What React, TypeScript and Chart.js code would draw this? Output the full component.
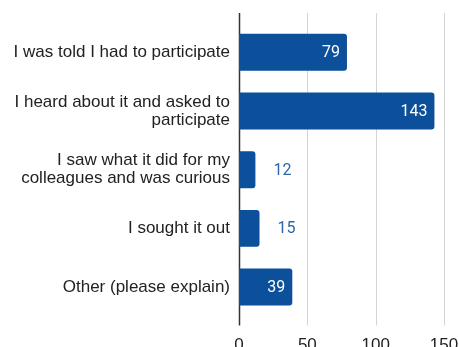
import React, { useEffect, useRef } from "react";
import { Chart, registerables } from "chart.js";

Chart.register(...registerables);

const categories: (string | string[])[] = [
  "I was told I had to participate",
  ["I heard about it and asked to", "participate"],
  ["I saw what it did for my", "colleagues and was curious"],
  "I sought it out",
  "Other (please explain)",
];
const counts: number[] = [79, 143, 12, 15, 39];
const xTicks: number[] = [0, 50, 100, 150];

const BAR_COLOR = "#0c4f9a";
const OUT_LABEL_COLOR = "#2e66aa";
const TEXT_COLOR = "#222222";

const gridPlugin = {
  id: "extendedGrid",
  beforeDatasetsDraw(chart: any) {
    const { ctx, chartArea, scales } = chart;
    const x = scales.x;
    const top = chartArea.top - 10;
    const bottom = chartArea.bottom + 9;
    ctx.save();
    xTicks.forEach((v) => {
      const px = Math.round(x.getPixelForValue(v)) + 0.5;
      ctx.beginPath();
      if (v === 0) {
        ctx.strokeStyle = "#333333";
        ctx.lineWidth = 1.5;
      } else {
        ctx.strokeStyle = "#d4d4d4";
        ctx.lineWidth = 1;
      }
      ctx.moveTo(px, top);
      ctx.lineTo(px, bottom);
      ctx.stroke();
    });
    ctx.restore();
  },
};

const valueLabelPlugin = {
  id: "valueLabels",
  afterDatasetsDraw(chart: any) {
    const { ctx } = chart;
    const meta = chart.getDatasetMeta(0);
    const data = chart.data.datasets[0].data as number[];
    ctx.save();
    ctx.font = "400 16px Roboto, 'Liberation Sans', sans-serif";
    ctx.textBaseline = "middle";
    meta.data.forEach((el: any, i: number) => {
      const v = data[i];
      if (v >= 30) {
        ctx.fillStyle = "#ffffff";
        ctx.textAlign = "right";
        ctx.fillText(String(v), el.x - 7, el.y + 1);
      } else {
        ctx.fillStyle = OUT_LABEL_COLOR;
        ctx.textAlign = "left";
        ctx.fillText(String(v), el.x + 18, el.y + 1);
      }
    });
    ctx.restore();
  },
};

export default function App() {
  const ref = useRef<HTMLCanvasElement | null>(null);

  useEffect(() => {
    document.body.style.margin = "0";
    if (!ref.current) return;
    const chart = new Chart(ref.current, {
      type: "bar",
      data: {
        labels: categories as any,
        datasets: [
          {
            data: counts,
            backgroundColor: BAR_COLOR,
            borderRadius: 3,
            borderSkipped: "start",
            barPercentage: 0.63,
            categoryPercentage: 1,
          },
        ],
      },
      options: {
        indexAxis: "y",
        responsive: false,
        animation: false,
        devicePixelRatio: 1,
        layout: { padding: { top: 23, left: 0, right: 15, bottom: 0 } },
        plugins: {
          legend: { display: false },
          tooltip: { enabled: false },
        },
        scales: {
          x: {
            min: 0,
            max: 150,
            afterBuildTicks: (scale: any) => {
              scale.ticks = xTicks.map((v) => ({ value: v }));
            },
            afterFit: (scale: any) => {
              scale.height = 360 - 316.4;
              scale.paddingRight = 0;
              scale.paddingLeft = 0;
            },
            grid: { display: false, drawTicks: false },
            border: { display: false },
            ticks: {
              padding: 19,
              color: TEXT_COLOR,
              font: { family: "'Liberation Sans', Arial, sans-serif", size: 17 },
            },
          },
          y: {
            afterFit: (scale: any) => {
              scale.width = 239;
            },
            grid: { display: false, drawTicks: false },
            border: { display: false },
            ticks: {
              padding: 9,
              color: TEXT_COLOR,
              font: {
                family: "'Liberation Sans', Arial, sans-serif",
                size: 17,
                lineHeight: 1.05,
              },
            },
          },
        },
      },
      plugins: [gridPlugin, valueLabelPlugin],
    });
    return () => chart.destroy();
  }, []);

  return (
    <div
      style={{
        position: "fixed",
        left: 0,
        top: 0,
        width: 459,
        height: 347,
        overflow: "hidden",
        background: "#ffffff",
      }}
    >
      <canvas ref={ref} width={459} height={360} style={{ display: "block" }} />
    </div>
  );
}
